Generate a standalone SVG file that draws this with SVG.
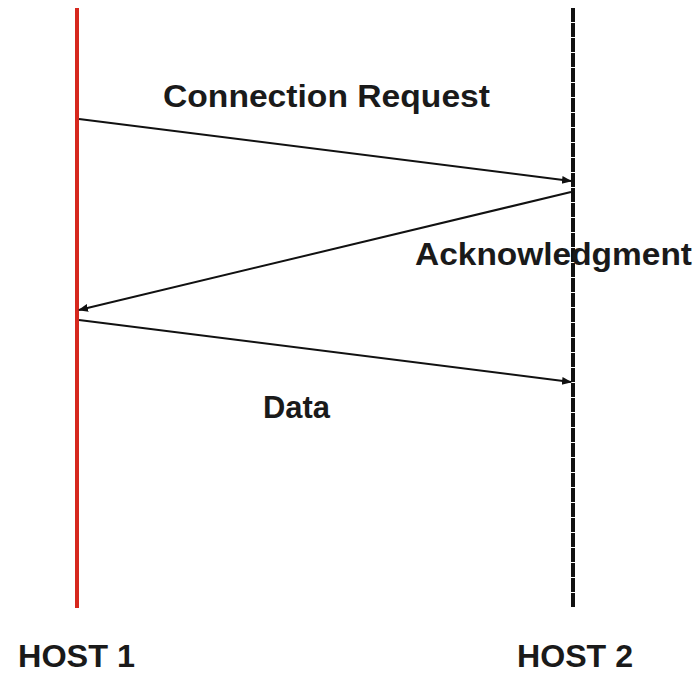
<svg xmlns="http://www.w3.org/2000/svg" width="699" height="674" viewBox="0 0 699 674">
<defs>
<style>
.lbl{font-family:"Liberation Sans",Arial,sans-serif;font-weight:bold;font-size:31px;fill:#1a1a1a}
.msg{stroke:#111;stroke-width:2;fill:none;marker-end:url(#ah)}
</style>
<marker id="ah" viewBox="0 0 10 10" refX="9" refY="5" markerWidth="5" markerHeight="5" orient="auto" markerUnits="strokeWidth">
<path d="M0,1 L10,5 L0,9 z" fill="#111"/>
</marker>
</defs>
<rect width="699" height="674" fill="#fff"/>
<g id="host1">
<line x1="77" y1="8" x2="77" y2="608" stroke="#d6281e" stroke-width="4"/>
<text class="lbl" x="18" y="667" textLength="117" lengthAdjust="spacingAndGlyphs">HOST 1</text>
</g>
<g id="host2">
<line x1="573" y1="8" x2="573" y2="608" stroke="#111" stroke-width="4" stroke-dasharray="14 1"/>
<text class="lbl" x="517" y="667" textLength="116" lengthAdjust="spacingAndGlyphs">HOST 2</text>
</g>
<g id="connectors">
<line class="msg" x1="79" y1="119" x2="571" y2="181"/>
<line class="msg" x1="571" y1="192" x2="79" y2="310"/>
<line class="msg" x1="79" y1="320" x2="571" y2="382"/>
</g>
<g id="labels">
<text class="lbl" x="163" y="107" textLength="327" lengthAdjust="spacingAndGlyphs">Connection Request</text>
<text class="lbl" x="415" y="265" textLength="277" lengthAdjust="spacingAndGlyphs">Acknowledgment</text>
<text class="lbl" x="263" y="418" textLength="67" lengthAdjust="spacingAndGlyphs">Data</text>
</g>
</svg>
